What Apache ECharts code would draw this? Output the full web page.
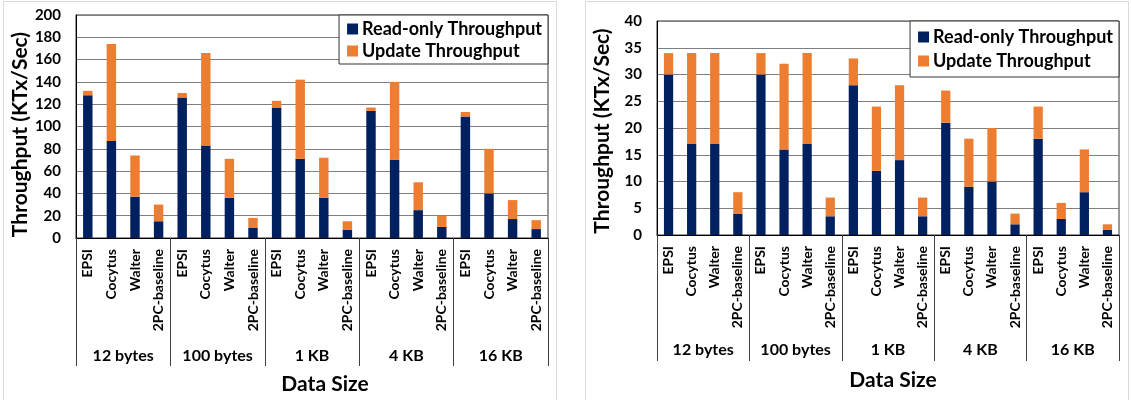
<!DOCTYPE html>
<html>
<head>
<meta charset="utf-8">
<script src="https://cdn.jsdelivr.net/npm/echarts@6/dist/echarts.min.js"></script>
<style>
  html, body { margin: 0; padding: 0; background: #fff; }
  #chart { width: 1131px; height: 400px; }
</style>
</head>
<body>
<div id="chart"></div>
<script>
// Systems compared within each data-size group
const systems = ['EPSI', 'Cocytus', 'Walter', '2PC-baseline'];
const dataSizes = ['12 bytes', '100 bytes', '1 KB', '4 KB', '16 KB'];

// Throughput, left panel (KTx/Sec), grouped by data size then system
const leftReadOnly = [128, 87, 37, 15, 126, 83, 36, 9, 117, 71, 36, 7.5, 114, 70, 25, 10, 109, 40, 17, 8];
const leftUpdate   = [4, 87, 37, 15, 4, 83, 35, 9, 6, 71, 36, 7.5, 3, 70, 25, 10, 4, 40, 17, 8];

// Throughput, right panel (KTx/Sec)
const rightReadOnly = [30, 17, 17, 4, 30, 16, 17, 3.5, 28, 12, 14, 3.5, 21, 9, 10, 2, 18, 3, 8, 1];
const rightUpdate   = [4, 17, 17, 4, 4, 16, 17, 3.5, 5, 12, 14, 3.5, 6, 9, 10, 2, 6, 3, 8, 1];

const seriesNames = ['Read-only Throughput', 'Update Throughput'];
const yTitle = 'Throughput (KTx/Sec)';
const xTitle = 'Data Size';

const NAVY = '#002060';
const ORANGE = '#ED7D31';
const FONT = 'Lato';

const barLabels = dataSizes.flatMap(() => systems);

function catAxis(gridIndex) {
  return {
    type: 'category', gridIndex, position: 'bottom', data: barLabels,
    axisLine: { show: true, lineStyle: { color: '#000', width: 1 } },
    axisTick: { show: false },
    axisLabel: { interval: 0, rotate: 90, margin: 11, color: '#000',
      fontFamily: FONT, fontWeight: 'bold', fontSize: 14 }
  };
}
function groupAxis(gridIndex, tickLen, margin) {
  return {
    type: 'category', gridIndex, position: 'bottom', data: dataSizes,
    axisLine: { show: false },
    axisTick: { show: true, interval: 0, length: tickLen, lineStyle: { color: '#404040', width: 1 } },
    axisLabel: { interval: 0, margin, color: '#000',
      fontFamily: FONT, fontWeight: 'bold', fontSize: 16 }
  };
}
// namePad shifts the rotated axis title along the axis
function valAxis(gridIndex, max, interval, nameGap, namePad) {
  return {
    type: 'value', gridIndex, min: 0, max, interval,
    name: yTitle, nameLocation: 'middle', nameGap,
    nameTextStyle: { fontFamily: FONT, fontWeight: 'bold', fontSize: 21, color: '#000',
      padding: [0, namePad, 0, 0] },
    axisLine: { show: true, lineStyle: { color: '#000' } },
    axisTick: { show: false },
    axisLabel: { margin: 15, color: '#000', fontFamily: FONT, fontWeight: 'bold', fontSize: 15 },
    splitLine: { show: true, lineStyle: { color: '#7f7f7f', width: 1 } }
  };
}
function legend(right, top, padding, itemGap) {
  return {
    right, top, orient: 'vertical', data: seriesNames,
    backgroundColor: '#fff', borderColor: '#333', borderWidth: 1,
    padding, itemGap, itemWidth: 11, itemHeight: 11, icon: 'rect',
    textStyle: { fontFamily: FONT, fontWeight: 'bold', fontSize: 18, color: '#000', padding: [0, 0, 0, -1] }
  };
}
function bars(name, data, color, xi, yi, stack) {
  return {
    name, type: 'bar', stack, data, xAxisIndex: xi, yAxisIndex: yi,
    barWidth: '40%', itemStyle: { color }, animation: false
  };
}

const chart = echarts.init(document.getElementById('chart'), null, { renderer: 'canvas' });
chart.setOption({
  backgroundColor: '#fff',
  animation: false,
  grid: [
    { left: 76, top: 15, width: 472, height: 223, show: true, borderColor: '#333', borderWidth: 1 },
    { left: 657, top: 21, width: 462, height: 214, show: true, borderColor: '#333', borderWidth: 1 }
  ],
  xAxis: [catAxis(0), groupAxis(0, 128, 110), catAxis(1), groupAxis(1, 126, 107)],
  yAxis: [valAxis(0, 200, 20, 44, 16), valAxis(1, 40, 5, 44, 6)],
  legend: [legend(1131 - 548, 15, [5, 6, 4, 8], 4), legend(1131 - 1119, 21, [7, 6, 7, 8], 6)],
  title: [
    { text: xTitle, left: 320, top: 369, textAlign: 'center',
      textStyle: { fontFamily: FONT, fontWeight: 'bold', fontSize: 21, color: '#000' } },
    { text: xTitle, left: 888, top: 365, textAlign: 'center',
      textStyle: { fontFamily: FONT, fontWeight: 'bold', fontSize: 21, color: '#000' } }
  ],
  graphic: [
    { type: 'rect', shape: { x: 3.5, y: 1.5, width: 553, height: 420 },
      style: { fill: 'none', stroke: '#d9d9d9', lineWidth: 1 }, silent: true },
    { type: 'rect', shape: { x: 585.5, y: 1.5, width: 543, height: 420 },
      style: { fill: 'none', stroke: '#d9d9d9', lineWidth: 1 }, silent: true }
  ],
  series: [
    bars(seriesNames[0], leftReadOnly, NAVY, 0, 0, 'left'),
    bars(seriesNames[1], leftUpdate, ORANGE, 0, 0, 'left'),
    bars(seriesNames[0], rightReadOnly, NAVY, 2, 1, 'right'),
    bars(seriesNames[1], rightUpdate, ORANGE, 2, 1, 'right')
  ]
});
</script>
</body>
</html>
